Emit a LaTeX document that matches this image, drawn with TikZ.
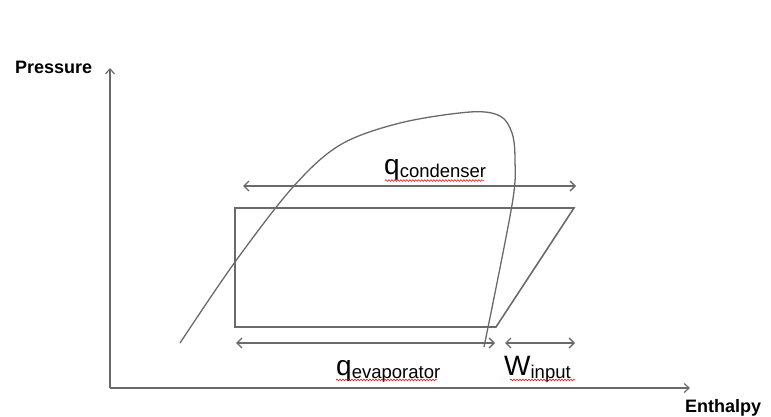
\documentclass[tikz,border=0pt]{standalone}
\usepackage{fontspec}
\setmainfont{Liberation Sans}
\usetikzlibrary{arrows.meta,decorations.pathmorphing}
\definecolor{linegray}{HTML}{6A6A6A}
\tikzset{
  ln/.style={draw=linegray, line width=1.4pt},
  dbl/.style={ln, {Straight Barb[length=5pt,width=10pt,line width=1.3pt]}-{Straight Barb[length=5pt,width=10pt,line width=1.3pt]}},
  axis/.style={ln, -{Straight Barb[length=5pt,width=9pt,line width=1.2pt]}},
  axlabel/.style={font=\fontsize{18}{18}\selectfont\bfseries, inner sep=0pt},
  qlabel/.style={inner sep=0pt, anchor=base west},
  squig/.style={draw=red!85!black, line width=0.5pt, decorate, decoration={snake, amplitude=0.9pt, segment length=3pt}}
}
\newcommand{\biglet}[1]{{\fontsize{28}{28}\selectfont #1}}
\newcommand{\smallsub}[1]{\raisebox{-3pt}{\fontsize{18.5}{18.5}\selectfont #1}}
\begin{document}
\begin{tikzpicture}[x=1pt,y=-1pt]
\useasboundingbox (0,0) rectangle (771,417);
% axes
\coordinate (O) at (110,388);
\coordinate (Ytop) at (110,68);
\coordinate (Xend) at (690,388);
\draw[axis] (O) -- (Ytop);
\draw[axis] (O) -- (Xend);
\node[axlabel, anchor=base west] (pl) at (15,74) {Pressure};
\node[axlabel, anchor=base west] (el) at (685,412) {Enthalpy};
% cycle
\coordinate (c1) at (235,208);
\coordinate (c2) at (574,208);
\coordinate (c3) at (496,327);
\coordinate (c4) at (235,327);
\draw[ln, line width=1.6pt] (c1) -- (c2) -- (c3) -- (c4) -- cycle;
% dome
\draw[ln, line width=1.3pt] plot[smooth, tension=0.55] coordinates {(180,343) (235,262) (293,187) (340,145) (400,123) (470,112) (500,116) (512,133) (515,160) (512,205) (484,347)};
% arrows
\coordinate (qc1) at (243,186);
\coordinate (qc2) at (576,186);
\draw[dbl] (qc1) -- (qc2);
\coordinate (qe1) at (236,343);
\coordinate (qe2) at (495,343);
\draw[dbl] (qe1) -- (qe2);
\coordinate (w1) at (505,343);
\coordinate (w2) at (575,343);
\draw[dbl] (w1) -- (w2);
% labels
\node[qlabel] (qc) at (384,175) {\biglet{q}\smallsub{condenser}};
\node[qlabel] (qe) at (336,375) {\biglet{q}\smallsub{evaporator}};
\node[qlabel] (wi) at (504,375) {\biglet{W}\smallsub{input}};
% spell-check squiggles
\draw[squig] (385,180.5) -- (484,180.5);
\draw[squig] (336,380) -- (437,380);
\draw[squig] (510,380) -- (575,380);
\end{tikzpicture}
\end{document}
